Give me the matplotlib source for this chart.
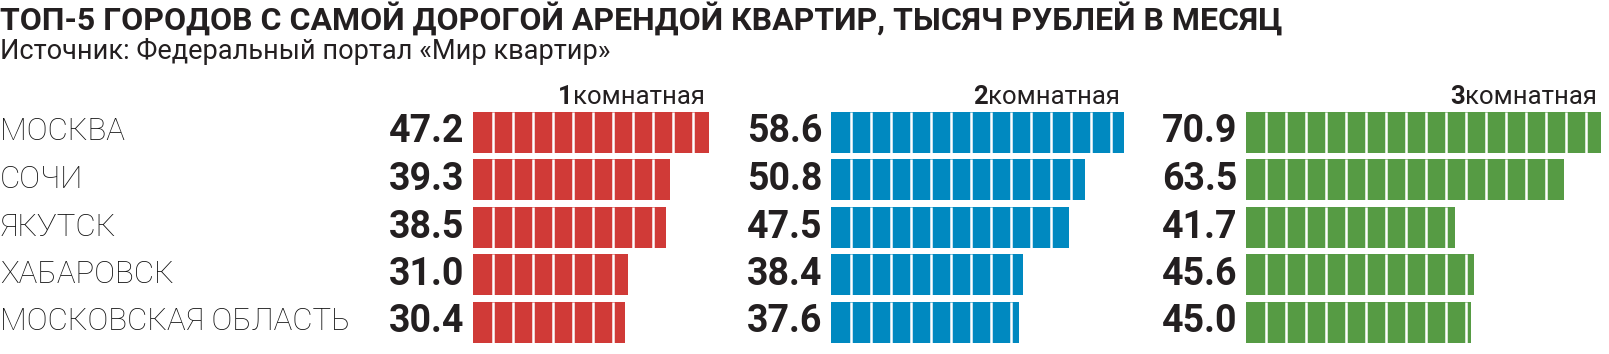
import numpy as np
import matplotlib
matplotlib.use("Agg")
import matplotlib.pyplot as plt

cities = ["МОСКВА", "СОЧИ", "ЯКУТСК", "ХАБАРОВСК", "МОСКОВСКАЯ ОБЛАСТЬ"]
rooms = ["1", "2", "3"]
room_word = "комнатная"
one_room = [47.2, 39.3, 38.5, 31.0, 30.4]
two_room = [58.6, 50.8, 47.5, 38.4, 37.6]
three_room = [70.9, 63.5, 41.7, 45.6, 45.0]
title = "ТОП-5 ГОРОДОВ С САМОЙ ДОРОГОЙ АРЕНДОЙ КВАРТИР, ТЫСЯЧ РУБЛЕЙ В МЕСЯЦ"
source = "Источник: Федеральный портал «Мир квартир»"

colors = ["#d03a37", "#0089c0", "#569b44"]
ink = "#231f20"

W, H = 1609, 354
px_per_unit = 5.0
panel_left = [473, 831, 1246]  # pixel where bars start
row_top, row_step = 132, 47.5
bar_h = 41 / row_step

fig = plt.figure(figsize=(W / 100, H / 100), dpi=100)

fig.text(0, 1 - 2 / H, title, ha="left", va="top", fontsize=23, fontweight="bold",
         family="Roboto", color=ink)
fig.text(0, 1 - 38 / H, source, ha="left", va="top", fontsize=19.5,
         family="Roboto", color=ink)

for i, city in enumerate(cities):
    fig.text(0, 1 - (row_top + i * row_step) / H, city, ha="left", va="center",
             fontsize=22.5, fontweight="light", family="Roboto", color="#111111")

xmax = 75
for k, vals in enumerate([one_room, two_room, three_room]):
    top = row_top - row_step / 2
    ax = fig.add_axes([panel_left[k] / W, 1 - (top + 5 * row_step) / H,
                       xmax * px_per_unit / W, 5 * row_step / H])
    ax.set_xlim(0, xmax)
    ax.set_ylim(4.5, -0.5)
    ax.axis("off")
    y = np.arange(len(vals))
    ax.barh(y, vals, height=bar_h, color=colors[k])
    for i, v in enumerate(vals):
        ax.vlines(np.arange(4, v, 4), i - bar_h / 2, i + bar_h / 2, color="white", lw=1.8)
        ax.text(-1.8, i, f"{v:.1f}", ha="right", va="center", fontsize=27,
                fontweight="bold", family="Roboto", color=ink)
    t = ax.text(max(vals) - 0.8, -0.74, room_word, ha="right", va="center", fontsize=18.5,
                family="Roboto", color=ink)
    ax.annotate(rooms[k], xy=(0, 0.5), xycoords=t, ha="right", va="center", fontsize=18.5,
                fontweight="bold", family="Roboto", color=ink)

fig.savefig("out.png", dpi=100)
